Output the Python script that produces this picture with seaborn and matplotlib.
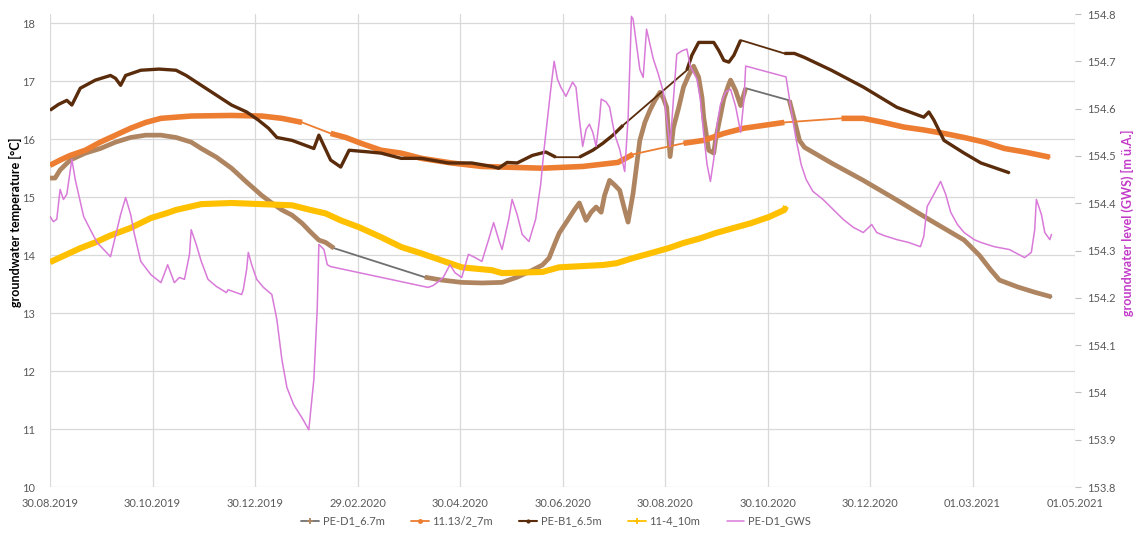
import matplotlib
matplotlib.use("Agg")
import matplotlib.pyplot as plt
from matplotlib.lines import Line2D
from matplotlib.ticker import FixedLocator, FuncFormatter
import pandas as pd
import seaborn as sns

# ---------------------------------------------------------------------------
# Measured series (run index marks continuous logging periods; between runs
# the logger had gaps and Excel joined the last/first readings with a line)
# ---------------------------------------------------------------------------
PE_D1_DATES = [
    "2019-08-30", "2019-09-02", "2019-09-05", "2019-09-11", "2019-09-20", "2019-09-29",
    "2019-10-08", "2019-10-17", "2019-10-26", "2019-11-04", "2019-11-13", "2019-11-22",
    "2019-11-28", "2019-12-07", "2019-12-16", "2019-12-25", "2020-01-03", "2020-01-09",
    "2020-01-15", "2020-01-21", "2020-01-27", "2020-02-01", "2020-02-06", "2020-02-10",
    "2020-02-15",
    "2020-04-09", "2020-04-19", "2020-05-01", "2020-05-13", "2020-05-25", "2020-06-03",
    "2020-06-12", "2020-06-18", "2020-06-22", "2020-06-25", "2020-06-28", "2020-07-03",
    "2020-07-07", "2020-07-10", "2020-07-14", "2020-07-17", "2020-07-20", "2020-07-23",
    "2020-07-25", "2020-07-28", "2020-07-31", "2020-08-03", "2020-08-06", "2020-08-08",
    "2020-08-11", "2020-08-15", "2020-08-18", "2020-08-21", "2020-08-24", "2020-08-27",
    "2020-08-29", "2020-08-31", "2020-09-02", "2020-09-04", "2020-09-07", "2020-09-10",
    "2020-09-13", "2020-09-16", "2020-09-19", "2020-09-21", "2020-09-22", "2020-09-25",
    "2020-09-28", "2020-09-29", "2020-10-02", "2020-10-04", "2020-10-07", "2020-10-08",
    "2020-10-11", "2020-10-14", "2020-10-17",
    "2020-11-12", "2020-11-15", "2020-11-18", "2020-11-21", "2020-12-07", "2020-12-26",
    "2021-01-15", "2021-02-04", "2021-02-24", "2021-03-05", "2021-03-12", "2021-03-17",
    "2021-03-28", "2021-04-07", "2021-04-17",
]
PE_D1_TEMP = [
    15.33, 15.33, 15.47, 15.64, 15.76, 15.84,
    15.95, 16.03, 16.07, 16.07, 16.03, 15.95,
    15.84, 15.69, 15.50, 15.26, 15.03, 14.90,
    14.78, 14.69, 14.55, 14.40, 14.26, 14.22,
    14.12,
    13.62, 13.57, 13.53, 13.52, 13.53, 13.62,
    13.74, 13.83, 13.95, 14.17, 14.38, 14.60,
    14.78, 14.90, 14.60, 14.74, 14.83, 14.74,
    15.03, 15.29, 15.21, 15.12, 14.78, 14.57,
    15.07, 15.98, 16.29, 16.50, 16.67, 16.81,
    16.71, 16.55, 15.70, 16.20, 16.53, 16.90,
    17.10, 17.26, 17.07, 16.72, 16.38, 15.81,
    15.76, 15.98, 16.41, 16.70, 16.95, 17.02,
    16.84, 16.58, 16.88,
    16.67, 16.33, 15.98, 15.86, 15.59, 15.29,
    14.95, 14.60, 14.26, 14.00, 13.74, 13.57,
    13.45, 13.36, 13.28,
]
PE_D1_RUN = [0] * 25 + [1] * 51 + [2] * 15

T11_13_DATES = [
    "2019-08-30", "2019-09-05", "2019-09-11", "2019-09-20", "2019-09-29", "2019-10-08",
    "2019-10-17", "2019-10-26", "2019-11-04", "2019-11-13", "2019-11-22", "2019-12-16",
    "2020-01-03", "2020-01-15", "2020-01-27",
    "2020-02-13", "2020-02-22", "2020-03-02", "2020-03-14", "2020-03-26", "2020-04-07",
    "2020-04-25", "2020-05-13", "2020-05-25", "2020-06-18", "2020-07-12", "2020-08-02",
    "2020-08-11",
    "2020-09-10", "2020-09-22", "2020-10-04", "2020-10-16", "2020-10-28", "2020-11-09",
    "2020-12-13", "2020-12-26", "2021-01-07", "2021-01-19", "2021-01-31", "2021-02-12",
    "2021-02-24", "2021-03-08", "2021-03-20", "2021-04-01", "2021-04-16",
]
T11_13_TEMP = [
    15.55, 15.64, 15.72, 15.81, 15.95, 16.07,
    16.19, 16.29, 16.36, 16.38, 16.40, 16.41,
    16.40, 16.36, 16.29,
    16.10, 16.03, 15.93, 15.81, 15.76, 15.67,
    15.59, 15.53, 15.52, 15.50, 15.53, 15.60,
    15.74,
    15.93, 15.98, 16.10, 16.19, 16.24, 16.29,
    16.36, 16.36, 16.29, 16.21, 16.16, 16.10,
    16.03, 15.95, 15.84, 15.78, 15.69,
]
T11_13_RUN = [0] * 15 + [1] * 13 + [2] * 6 + [3] * 11

PE_B1_DATES = [
    "2019-08-30", "2019-09-04", "2019-09-09", "2019-09-12", "2019-09-17", "2019-09-26",
    "2019-10-05", "2019-10-08", "2019-10-11", "2019-10-14", "2019-10-23", "2019-11-03",
    "2019-11-13", "2019-11-19", "2019-11-28", "2019-12-07", "2019-12-16", "2019-12-25",
    "2020-01-01", "2020-01-07", "2020-01-12", "2020-01-21", "2020-02-03", "2020-02-06",
    "2020-02-13", "2020-02-19", "2020-02-24", "2020-03-07", "2020-03-14", "2020-03-26",
    "2020-04-07", "2020-04-23", "2020-05-07", "2020-05-19", "2020-05-23", "2020-05-28",
    "2020-06-03", "2020-06-12", "2020-06-20", "2020-06-26",
    "2020-07-10", "2020-07-18", "2020-07-24", "2020-07-30", "2020-08-05",
    "2020-09-12", "2020-09-15", "2020-09-19", "2020-09-28", "2020-10-01", "2020-10-04",
    "2020-10-07", "2020-10-10", "2020-10-14",
    "2020-11-09", "2020-11-15", "2020-11-21", "2020-12-07", "2020-12-26", "2021-01-15",
    "2021-01-31", "2021-02-03", "2021-02-06", "2021-02-12", "2021-02-24", "2021-03-06",
    "2021-03-23",
]
PE_B1_TEMP = [
    16.50, 16.60, 16.67, 16.59, 16.88, 17.02,
    17.10, 17.05, 16.93, 17.10, 17.19, 17.21,
    17.19, 17.10, 16.93, 16.76, 16.59, 16.47,
    16.33, 16.19, 16.03, 15.98, 15.84, 16.07,
    15.64, 15.52, 15.81, 15.78, 15.76, 15.67,
    15.67, 15.59, 15.59, 15.53, 15.50, 15.60,
    15.59, 15.72, 15.78, 15.69,
    15.69, 15.81, 15.93, 16.07, 16.24,
    17.19, 17.45, 17.67, 17.67, 17.53, 17.36,
    17.33, 17.45, 17.71,
    17.48, 17.48, 17.41, 17.19, 16.90, 16.55,
    16.38, 16.47, 16.33, 15.98, 15.76, 15.59,
    15.42,
]
PE_B1_RUN = [0] * 40 + [1] * 5 + [2] * 9 + [3] * 13

T11_4_DATES = [
    "2019-08-30", "2019-09-08", "2019-09-17", "2019-09-26", "2019-10-05", "2019-10-17",
    "2019-10-29", "2019-11-07", "2019-11-13", "2019-11-28", "2019-12-16", "2020-01-03",
    "2020-01-21", "2020-02-01", "2020-02-10", "2020-02-19", "2020-03-01", "2020-03-14",
    "2020-03-26", "2020-04-07", "2020-04-19", "2020-05-01", "2020-05-19", "2020-05-25",
    "2020-06-18", "2020-06-28", "2020-07-24", "2020-08-01", "2020-08-11", "2020-08-21",
    "2020-09-01", "2020-09-10", "2020-09-20", "2020-09-29", "2020-10-10", "2020-10-20",
    "2020-10-31", "2020-11-09", "2020-11-10",
]
T11_4_TEMP = [
    13.88, 14.00, 14.12, 14.22, 14.34, 14.47,
    14.64, 14.72, 14.78, 14.88, 14.90, 14.88,
    14.86, 14.78, 14.72, 14.60, 14.48, 14.31,
    14.14, 14.03, 13.91, 13.79, 13.74, 13.69,
    13.71, 13.79, 13.83, 13.86, 13.95, 14.03,
    14.12, 14.21, 14.29, 14.38, 14.47, 14.55,
    14.66, 14.78, 14.84,
]

GWS_DATES = [
    "2019-08-30", "2019-09-01", "2019-09-03", "2019-09-05", "2019-09-07", "2019-09-09",
    "2019-09-12", "2019-09-14", "2019-09-19", "2019-09-23", "2019-09-27", "2019-10-02",
    "2019-10-05", "2019-10-07", "2019-10-11", "2019-10-14", "2019-10-17", "2019-10-19",
    "2019-10-23", "2019-10-29", "2019-11-04", "2019-11-07", "2019-11-08", "2019-11-12",
    "2019-11-15", "2019-11-18", "2019-11-21", "2019-11-22", "2019-11-25", "2019-11-28",
    "2019-12-02", "2019-12-07", "2019-12-13", "2019-12-14", "2019-12-22", "2019-12-23",
    "2019-12-25", "2019-12-26", "2019-12-28", "2019-12-31", "2020-01-04", "2020-01-09",
    "2020-01-12", "2020-01-15", "2020-01-18", "2020-01-22", "2020-01-27", "2020-01-31",
    "2020-02-03", "2020-02-05", "2020-02-06", "2020-02-09", "2020-02-11", "2020-02-13",
    "2020-04-11", "2020-04-14", "2020-04-17", "2020-04-20", "2020-04-24", "2020-04-27",
    "2020-05-01", "2020-05-05", "2020-05-09", "2020-05-13", "2020-05-17", "2020-05-20",
    "2020-05-23", "2020-05-25", "2020-05-29", "2020-05-31", "2020-06-03", "2020-06-06",
    "2020-06-10", "2020-06-14", "2020-06-17", "2020-06-19", "2020-06-21", "2020-06-23",
    "2020-06-25", "2020-06-27", "2020-06-29", "2020-07-02", "2020-07-04", "2020-07-06",
    "2020-07-08", "2020-07-10", "2020-07-12", "2020-07-14", "2020-07-16", "2020-07-18",
    "2020-07-20", "2020-07-22", "2020-07-23", "2020-07-26", "2020-07-28", "2020-07-31",
    "2020-08-03", "2020-08-06", "2020-08-08", "2020-08-10", "2020-08-11", "2020-08-13",
    "2020-08-15", "2020-08-17", "2020-08-19", "2020-08-21", "2020-08-23", "2020-08-26",
    "2020-08-29", "2020-08-31", "2020-09-02", "2020-09-04", "2020-09-06", "2020-09-09",
    "2020-09-12", "2020-09-14", "2020-09-18", "2020-09-20", "2020-09-22", "2020-09-24",
    "2020-09-26", "2020-09-28", "2020-09-30", "2020-10-02", "2020-10-05", "2020-10-08",
    "2020-10-11", "2020-10-14", "2020-10-16", "2020-10-17",
    "2020-11-10", "2020-11-13", "2020-11-16", "2020-11-19", "2020-11-22", "2020-11-26",
    "2020-12-02", "2020-12-08", "2020-12-14", "2020-12-20", "2020-12-26", "2020-12-31",
    "2021-01-03", "2021-01-07", "2021-01-15", "2021-01-22", "2021-01-29", "2021-01-31",
    "2021-02-02", "2021-02-06", "2021-02-10", "2021-02-13", "2021-02-16", "2021-02-20",
    "2021-02-24", "2021-03-02", "2021-03-06", "2021-03-14", "2021-03-23", "2021-04-01",
    "2021-04-05", "2021-04-07", "2021-04-08", "2021-04-11", "2021-04-13", "2021-04-16",
    "2021-04-17",
]
GWS_LEVEL = [
    154.372, 154.361, 154.366, 154.429, 154.408, 154.419,
    154.493, 154.450, 154.372, 154.344, 154.317, 154.298,
    154.287, 154.317, 154.376, 154.412, 154.376, 154.338,
    154.277, 154.249, 154.232, 154.260, 154.270, 154.232,
    154.243, 154.239, 154.292, 154.344, 154.313, 154.277,
    154.239, 154.224, 154.211, 154.217, 154.207, 154.217,
    154.260, 154.296, 154.270, 154.239, 154.222, 154.207,
    154.154, 154.069, 154.010, 153.974, 153.946, 153.921,
    154.027, 154.175, 154.313, 154.302, 154.270, 154.266,
    154.222, 154.226, 154.234, 154.243, 154.270, 154.253,
    154.243, 154.292, 154.285, 154.277, 154.323, 154.359,
    154.323, 154.302, 154.366, 154.408, 154.376, 154.334,
    154.319, 154.366, 154.440, 154.514, 154.578, 154.641,
    154.700, 154.662, 154.645, 154.626, 154.641, 154.656,
    154.645, 154.578, 154.520, 154.556, 154.567, 154.550,
    154.520, 154.578, 154.620, 154.614, 154.603, 154.546,
    154.514, 154.467, 154.578, 154.795, 154.789, 154.736,
    154.683, 154.666, 154.768, 154.736, 154.705, 154.673,
    154.635, 154.578, 154.520, 154.620, 154.715, 154.722,
    154.726, 154.690, 154.662, 154.620, 154.546, 154.482,
    154.446, 154.493, 154.567, 154.609, 154.635, 154.641,
    154.605, 154.550, 154.620, 154.690,
    154.667, 154.599, 154.535, 154.482, 154.450, 154.425,
    154.408, 154.387, 154.366, 154.349, 154.338, 154.355,
    154.338, 154.332, 154.323, 154.317, 154.308, 154.330,
    154.393, 154.419, 154.446, 154.419, 154.381, 154.355,
    154.338, 154.323, 154.317, 154.308, 154.302, 154.285,
    154.296, 154.344, 154.408, 154.376, 154.338, 154.323,
    154.334,
]

DATE_TICKS = ["30.08.2019", "30.10.2019", "30.12.2019", "29.02.2020", "30.04.2020",
              "30.06.2020", "30.08.2020", "30.10.2020", "30.12.2020", "01.03.2021",
              "01.05.2021"]
TEMP_TICKS = [10, 11, 12, 13, 14, 15, 16, 17, 18]
GWS_TICKS = [153.8, 153.9, 154.0, 154.1, 154.2, 154.3, 154.4, 154.5, 154.6, 154.7, 154.8]

SERIES_LABELS = ["PE-D1_6.7m", "11.13/2_7m", "PE-B1_6.5m", "11-4_10m", "PE-D1_GWS"]

# ---------------------------------------------------------------------------
# Styling
# ---------------------------------------------------------------------------
C_TAN = "#AE8560"
C_TAN_LINE = "#707070"
C_ORANGE = "#ED7D31"
C_BROWN = "#5A2C0C"
C_GOLD = "#FFC000"
C_VIOLET = "#D97AD9"
C_VIOLET_LABEL = "#C23BC8"
C_GRID = "#D9D9D9"
C_TICK = "#595959"

sns.set_style("white")
plt.rcParams["font.family"] = ["Lato", "DejaVu Sans"]


def frame(dates, values, runs=None):
    df = pd.DataFrame({"date": pd.to_datetime(dates), "value": values})
    df["run"] = runs if runs is not None else [0] * len(values)
    return df


def draw_logged(ax, df, line_color, run_color, thin, thick, z):
    # connecting line across logger gaps, then the dense logged runs on top
    sns.lineplot(data=df, x="date", y="value", ax=ax, color=line_color, lw=thin,
                 estimator=None, sort=False, legend=False, zorder=z)
    sns.lineplot(data=df, x="date", y="value", units="run", ax=ax, color=run_color,
                 lw=thick, estimator=None, sort=False, legend=False, zorder=z + 0.1,
                 solid_joinstyle="round", solid_capstyle="butt")


fig = plt.figure(figsize=(11.37, 5.33), dpi=100)
ax = fig.add_axes([0.044, 0.0863, 0.9015, 0.8874])

draw_logged(ax, frame(PE_D1_DATES, PE_D1_TEMP, PE_D1_RUN), C_TAN_LINE, C_TAN, 1.3, 3.4, 2)
draw_logged(ax, frame(T11_13_DATES, T11_13_TEMP, T11_13_RUN), C_ORANGE, C_ORANGE, 1.3, 4.0, 3)
draw_logged(ax, frame(PE_B1_DATES, PE_B1_TEMP, PE_B1_RUN), C_BROWN, C_BROWN, 1.3, 2.4, 4)
draw_logged(ax, frame(T11_4_DATES, T11_4_TEMP), C_GOLD, C_GOLD, 1.3, 4.4, 5)

ax2 = ax.twinx()
ax2.patch.set_visible(False)
sns.lineplot(data=frame(GWS_DATES, GWS_LEVEL), x="date", y="value", ax=ax2,
             color=C_VIOLET, lw=1.1, estimator=None, sort=False, legend=False)

# axes ranges and ticks
tick_dates = pd.to_datetime(DATE_TICKS, format="%d.%m.%Y")
ax.set_xlim(tick_dates[0], tick_dates[-1])
ax.set_xticks(tick_dates)
ax.set_xticklabels(DATE_TICKS)
ax.set_ylim(10, 18.16)
ax.yaxis.set_major_locator(FixedLocator(TEMP_TICKS))
ax2.set_ylim(153.8, 154.8)
ax2.yaxis.set_major_locator(FixedLocator(GWS_TICKS))
ax2.yaxis.set_major_formatter(FuncFormatter(lambda v, _: f"{v:g}"))

ax.grid(True, color=C_GRID, lw=0.9)
ax.set_axisbelow(True)
ax2.grid(False)
for a in (ax, ax2):
    for s in a.spines.values():
        s.set_visible(False)
    a.set_xlabel("")
    a.set_ylabel("")

ax.tick_params(axis="x", length=0, pad=8, labelsize=8, labelcolor=C_TICK)
ax.tick_params(axis="y", length=0, pad=11, labelsize=8, labelcolor=C_TICK)
ax2.tick_params(axis="y", length=4, width=0.8, color="#BFBFBF", pad=5,
                labelsize=8, labelcolor=C_TICK)

fig.text(0.014, 0.583, "groundwater temperature [°C]", rotation=90, ha="center",
         va="center", fontsize=9, fontweight="bold", color="black")
fig.text(0.992, 0.583, "groundwater level (GWS) [m ü.A.]", rotation=90, ha="center",
         va="center", fontsize=9, fontweight="bold", color=C_VIOLET_LABEL)

handles = [
    Line2D([0], [0], color=C_TAN_LINE, lw=1.3, marker="+", ms=5, mew=1.3, mec=C_TAN),
    Line2D([0], [0], color=C_ORANGE, lw=1.3, marker="o", ms=2.5, mec=C_ORANGE, mfc=C_ORANGE),
    Line2D([0], [0], color=C_BROWN, lw=1.5, marker="o", ms=2, mec=C_BROWN, mfc=C_BROWN),
    Line2D([0], [0], color=C_GOLD, lw=1.3, marker="+", ms=5, mew=1.3, mec=C_GOLD),
    Line2D([0], [0], color=C_VIOLET, lw=1.1),
]
fig.legend(handles, SERIES_LABELS, loc="center", bbox_to_anchor=(0.489, 0.0225),
           ncol=5, frameon=False, fontsize=8, handlelength=1.6, handletextpad=0.3,
           columnspacing=2.4, labelcolor=C_TICK)

fig.savefig("out.png", dpi=100)
